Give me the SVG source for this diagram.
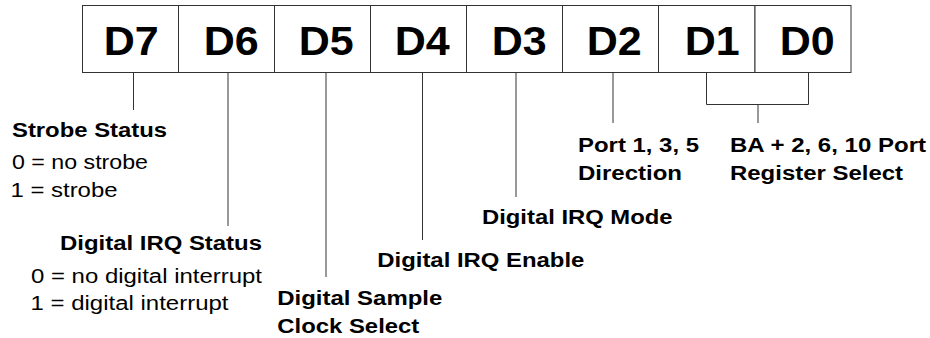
<svg xmlns="http://www.w3.org/2000/svg" width="930" height="338" viewBox="0 0 930 338">
<style>
.cell{fill:#fff;stroke:#333;stroke-width:1}
.bit{font-family:"Liberation Sans",Arial,sans-serif;font-weight:bold;font-size:40px;fill:#000}
.t{font-family:"Liberation Sans",Arial,sans-serif;font-size:20px;fill:#000}
.b{font-weight:bold}
.ln{fill:none;stroke:#333;stroke-width:1}
</style>
<g id="register">
<g id="D7"><rect class="cell" x="82.5" y="5.5" width="96" height="67"/><text class="bit" x="103.7" y="55" textLength="55" lengthAdjust="spacingAndGlyphs">D7</text></g>
<g id="D6"><rect class="cell" x="178.5" y="5.5" width="96" height="67"/><text class="bit" x="203.7" y="55" textLength="55" lengthAdjust="spacingAndGlyphs">D6</text></g>
<g id="D5"><rect class="cell" x="274.5" y="5.5" width="96" height="67"/><text class="bit" x="298.7" y="55" textLength="55" lengthAdjust="spacingAndGlyphs">D5</text></g>
<g id="D4"><rect class="cell" x="370.5" y="5.5" width="96" height="67"/><text class="bit" x="394.7" y="55" textLength="55" lengthAdjust="spacingAndGlyphs">D4</text></g>
<g id="D3"><rect class="cell" x="466.5" y="5.5" width="96" height="67"/><text class="bit" x="491.7" y="55" textLength="55" lengthAdjust="spacingAndGlyphs">D3</text></g>
<g id="D2"><rect class="cell" x="562.5" y="5.5" width="96" height="67"/><text class="bit" x="586.7" y="55" textLength="55" lengthAdjust="spacingAndGlyphs">D2</text></g>
<g id="D1"><rect class="cell" x="658.5" y="5.5" width="96.5" height="67"/><text class="bit" x="684.7" y="55" textLength="55" lengthAdjust="spacingAndGlyphs">D1</text></g>
<g id="D0"><rect class="cell" x="755" y="5.5" width="96" height="67"/><text class="bit" x="779.7" y="55" textLength="55" lengthAdjust="spacingAndGlyphs">D0</text></g>
</g>
<g id="connectors">
<path class="ln" d="M133.5 72.5V110"/>
<path class="ln" d="M228 72.5V226"/>
<path class="ln" d="M326 72.5V277"/>
<path class="ln" d="M422.5 72.5V240"/>
<path class="ln" d="M516 72.5V197"/>
<path class="ln" d="M613 72.5V123"/>
<path class="ln" d="M706.5 72.5V104.5H808.5V72.5M758 104.5V123"/>
</g>
<g id="strobe-status">
<text class="t b" x="12" y="136.5" textLength="155" lengthAdjust="spacingAndGlyphs">Strobe Status</text>
<text class="t" x="12" y="168.5" textLength="136" lengthAdjust="spacingAndGlyphs">0 = no strobe</text>
<text class="t" x="10.5" y="196.7" textLength="107" lengthAdjust="spacingAndGlyphs">1 = strobe</text>
</g>
<g id="digital-irq-status">
<text class="t b" x="60" y="249.5" textLength="202" lengthAdjust="spacingAndGlyphs">Digital IRQ Status</text>
<text class="t" x="31" y="282.5" textLength="231" lengthAdjust="spacingAndGlyphs">0 = no digital interrupt</text>
<text class="t" x="30.5" y="309.5" textLength="198" lengthAdjust="spacingAndGlyphs">1 = digital interrupt</text>
</g>
<g id="digital-sample-clock">
<text class="t b" x="277.3" y="305" textLength="165" lengthAdjust="spacingAndGlyphs">Digital Sample</text>
<text class="t b" x="277.3" y="333" textLength="142" lengthAdjust="spacingAndGlyphs">Clock Select</text>
</g>
<g id="digital-irq-enable">
<text class="t b" x="377.3" y="267" textLength="207" lengthAdjust="spacingAndGlyphs">Digital IRQ Enable</text>
</g>
<g id="digital-irq-mode">
<text class="t b" x="482" y="224" textLength="190.5" lengthAdjust="spacingAndGlyphs">Digital IRQ Mode</text>
</g>
<g id="port-direction">
<text class="t b" x="578" y="151.5" textLength="121" lengthAdjust="spacingAndGlyphs">Port 1, 3, 5</text>
<text class="t b" x="578" y="180" textLength="104" lengthAdjust="spacingAndGlyphs">Direction</text>
</g>
<g id="register-select">
<text class="t b" x="730" y="151.5" textLength="196" lengthAdjust="spacingAndGlyphs">BA + 2, 6, 10 Port</text>
<text class="t b" x="730" y="180" textLength="173" lengthAdjust="spacingAndGlyphs">Register Select</text>
</g>
</svg>
